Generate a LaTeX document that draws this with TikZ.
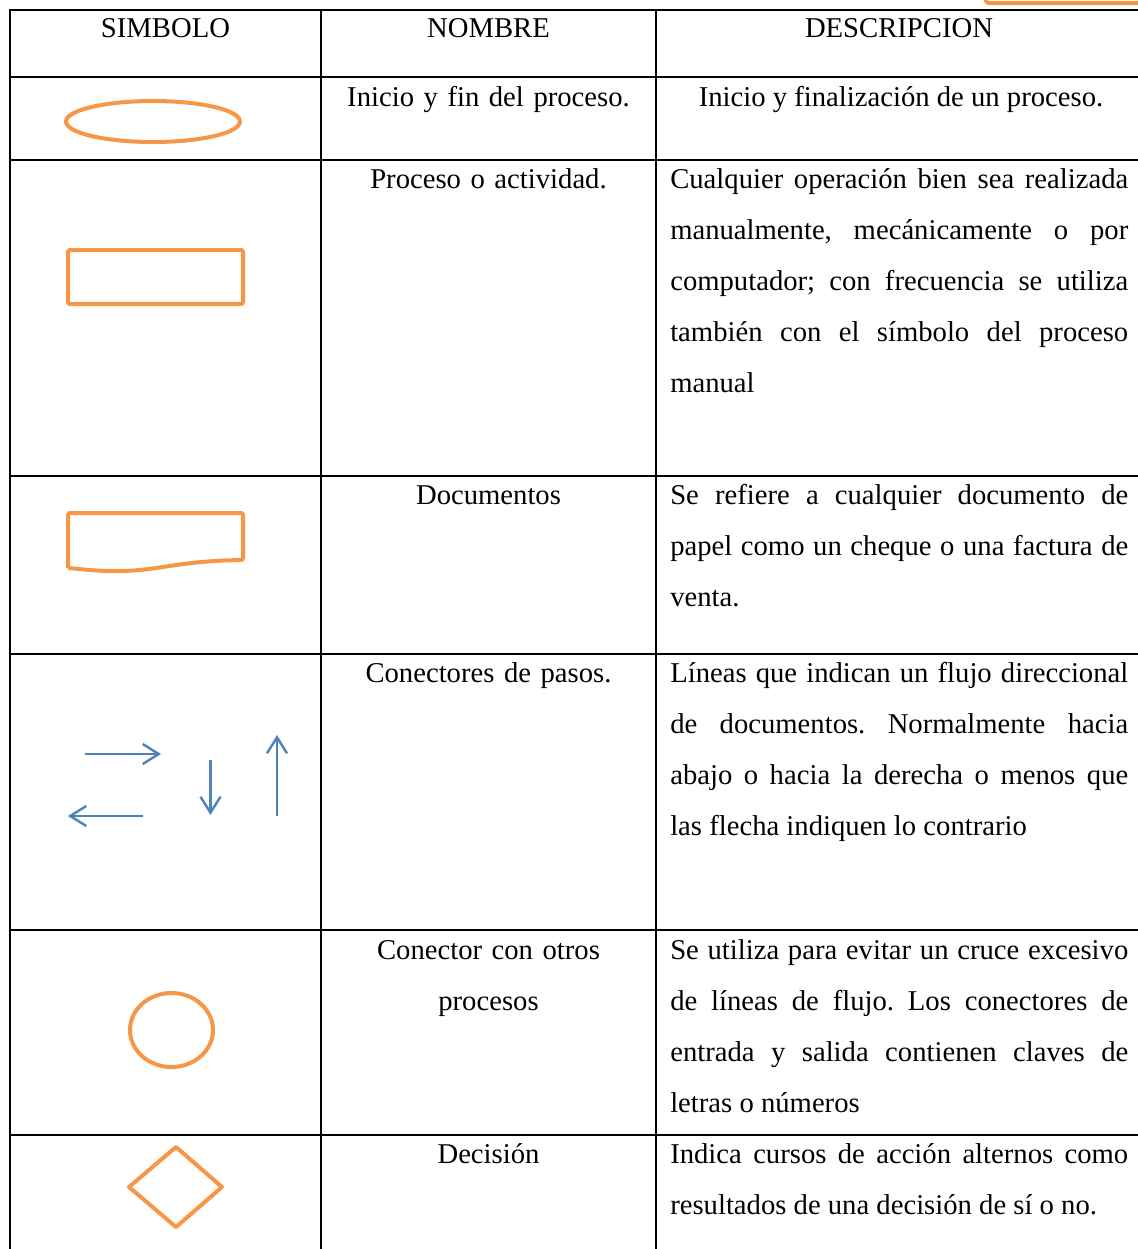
\documentclass[tikz,border=0pt]{standalone}
\usepackage{fontspec}
\setmainfont{Liberation Serif}
\usetikzlibrary{arrows.meta}
\definecolor{symorange}{HTML}{F79646}
\definecolor{symblue}{HTML}{4F81BD}

\begin{document}
\frenchspacing
\begin{tikzpicture}[x=0.75pt,y=-0.75pt,
    grid/.style={line width=1.6pt,line cap=rect},
    symbol/.style={draw=symorange,line width=3pt,line join=round},
    flow/.style={draw=symblue,line width=1.8pt,-{Straight Barb[length=12pt,width=15pt]}},
    celltext/.style={inner sep=0pt,font=\fontsize{21.5}{38.25}\selectfont},
    headtext/.style={celltext,anchor=base},
    nametext/.style={celltext,anchor=north,text width=240pt,align=center},
    desctext/.style={celltext,anchor=north west,text width=343.5pt,align=justify}]
    \useasboundingbox (0,0) rectangle (1138,1249);
    % Draw table
        \foreach \y in {10,77,160,476,654,930,1135}
            \draw[grid] (10,\y) -- (1150,\y);
        \foreach \x in {10,321,656}
            \draw[grid] (\x,10) -- (\x,1260);
        \draw[symbol, rounded corners=2pt] (986,-6) -- (986,3) -- (1150,3);
    % Header
        \node[headtext] (simbolo) at (165.5,37) {SIMBOLO};
        \node[headtext] (nombre) at (488.5,37) {NOMBRE};
        \node[headtext] (descripcion) at (899,37) {DESCRIPCION};
    % Names
        \node[nametext] (n-inicio) at (488.5,70.8) {\strut Inicio y fin del proceso.};
        \node[nametext] (n-proceso) at (488.5,152.8) {\strut Proceso o actividad.};
        \node[nametext] (n-documento) at (488.5,468.8) {\strut Documentos};
        \node[nametext] (n-flujo) at (488.5,646.8) {\strut Conectores de pasos.};
        \node[nametext] (n-conector) at (488.5,923.8) {\strut Conector con otros\\procesos};
        \node[nametext] (n-decision) at (488.5,1127.8) {\strut Decisión};
    % Descriptions
        \node[celltext,anchor=north] (d-inicio) at (901,70.8) {\strut Inicio y finalización de un proceso.};
        \node[desctext] (d-proceso) at (670,152.8) {\strut Cualquier operación bien sea realizada\linebreak
            manualmente, mecánicamente o por\linebreak
            computador; con frecuencia se utiliza\linebreak
            también con el símbolo del proceso\linebreak
            manual};
        \node[desctext] (d-documento) at (670,468.8) {\strut Se refiere a cualquier documento de\linebreak
            papel como un cheque o una factura de\linebreak
            venta.};
        \node[desctext] (d-flujo) at (670,646.8) {\strut Líneas que indican un flujo direccional\linebreak
            de documentos. Normalmente hacia\linebreak
            abajo o hacia la derecha o menos que\linebreak
            las flecha indiquen lo contrario};
        \node[desctext] (d-conector) at (670,923.8) {\strut Se utiliza para evitar un cruce excesivo\linebreak
            de líneas de flujo. Los conectores de\linebreak
            entrada y salida contienen claves de\linebreak
            letras o números};
        \node[desctext] (d-decision) at (670,1127.8) {\strut Indica cursos de acción alternos como\linebreak
            resultados de una decisión de sí o no.};
    % Draw symbols
        \draw[symbol] (153,121.5) ellipse [x radius=87, y radius=20.5];
        \draw[symbol, rounded corners=1.5pt] (68,250) rectangle (243,304);
        \draw[symbol, rounded corners=1.5pt] (68,568) -- (68,513) -- (243,513) -- (243,560)
            .. controls (175,561) and (160,571) .. (115,571)
            .. controls (95,571) and (80,569) .. (68,568);
        \draw[symbol] (171.5,1030) ellipse [x radius=41.5, y radius=37];
        \draw[symbol] (129,1187) -- (176,1147) -- (222,1187) -- (176,1227) -- cycle;
    % Draw arrows
        \coordinate (r-a) at (85,754);   \coordinate (r-b) at (161,754);
        \coordinate (l-a) at (143,816);  \coordinate (l-b) at (68,816);
        \coordinate (d-a) at (210.5,760); \coordinate (d-b) at (210.5,815);
        \coordinate (u-a) at (277,816);  \coordinate (u-b) at (277,735);
        \draw[flow] (r-a) -- (r-b);
        \draw[flow] (l-a) -- (l-b);
        \draw[flow] (d-a) -- (d-b);
        \draw[flow] (u-a) -- (u-b);
    \end{tikzpicture}
\end{document}
